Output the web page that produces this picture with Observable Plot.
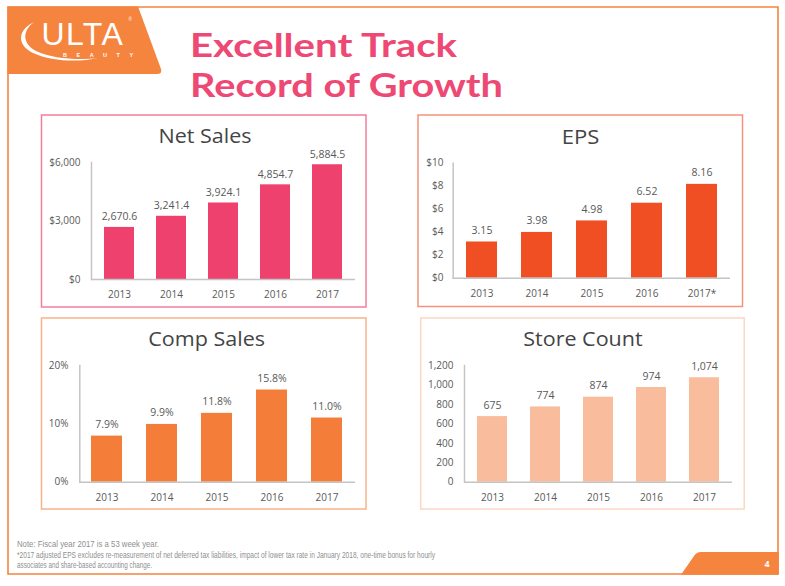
<!DOCTYPE html>
<html>
<head>
<meta charset="utf-8">
<script src="https://cdn.jsdelivr.net/npm/d3@7"></script>
<script src="https://cdn.jsdelivr.net/npm/@observablehq/plot@0.6"></script>
<style>
  html, body { margin: 0; padding: 0; background: #fff; }
  #slide { position: relative; width: 785px; height: 586px; overflow: hidden; background: #fff; font-family: "Open Sans", sans-serif; }
  #bg { position: absolute; left: 0; top: 0; }
  .chart { position: absolute; }
  .chart svg { display: block; }
</style>
</head>
<body>
<div id="slide">
<svg id="bg" width="785" height="586" xmlns="http://www.w3.org/2000/svg">
  <!-- slide frame -->
  <path d="M8,7 L778,7 L778,574 L8,574 Z" fill="none" stroke="#f5843f" stroke-width="1.6"/>
  <!-- logo tab -->
  <path d="M7.5,6.5 L138,6.5 L161,69 Q162.5,74 157,74 L7.5,74 Z" fill="#f5843f"/>
  <path d="M34,22 C19,29 15,44 33,53 C52,62 80,62 98,58 C78,60.5 52,58.5 37,51.5 C22,44 22,31 34,22 Z" fill="#fff"/>
  <text x="41.5" y="44.5" font-family="Liberation Sans" font-size="32" fill="#fff" letter-spacing="1.4">ULTA</text>
  <text x="63" y="56.5" font-family="Liberation Sans" font-size="5.5" font-weight="700" fill="#fff" letter-spacing="9.5">BEAUTY</text>
  <text x="128.5" y="20.5" font-family="Liberation Sans" font-size="4.5" fill="#fff">®</text>
  <!-- title -->
  <text x="190" y="56.7" font-family="Lato" font-size="33" font-weight="700" fill="#ee4874" textLength="267" lengthAdjust="spacingAndGlyphs">Excellent Track</text>
  <text x="190" y="96.7" font-family="Lato" font-size="33" font-weight="700" fill="#ee4874" textLength="313" lengthAdjust="spacingAndGlyphs">Record of Growth</text>
  <!-- panel borders -->
  <rect x="41.5" y="115" width="324.5" height="192" fill="none" stroke="#f47c9c" stroke-width="1.5"/>
  <rect x="418" y="115" width="324.5" height="191.5" fill="none" stroke="#f5937b" stroke-width="1.5"/>
  <rect x="41.5" y="318" width="324.5" height="191" fill="none" stroke="#f8b387" stroke-width="1.5"/>
  <rect x="420.7" y="318" width="323.5" height="191" fill="none" stroke="#fbd7c4" stroke-width="1.5"/>
  <!-- panel titles -->
  <text x="158.5" y="142.7" font-family="Open Sans" font-size="19.5" fill="#444" textLength="93" lengthAdjust="spacingAndGlyphs">Net Sales</text>
  <text x="561.7" y="143.5" font-family="Open Sans" font-size="19.5" fill="#444" textLength="37.6" lengthAdjust="spacingAndGlyphs">EPS</text>
  <text x="148.3" y="346" font-family="Open Sans" font-size="19.5" fill="#444" textLength="116.7" lengthAdjust="spacingAndGlyphs">Comp Sales</text>
  <text x="523.3" y="346" font-family="Open Sans" font-size="19.5" fill="#444" textLength="119.3" lengthAdjust="spacingAndGlyphs">Store Count</text>
  <!-- footer -->
  <text x="17" y="547.3" font-family="Liberation Sans" font-size="9" fill="#8f8f8f" textLength="142" lengthAdjust="spacingAndGlyphs">Note: Fiscal year 2017 is a 53 week year.</text>
  <text x="17" y="557.8" font-family="Liberation Sans" font-size="9" fill="#8f8f8f" textLength="418" lengthAdjust="spacingAndGlyphs">*2017 adjusted EPS excludes re-measurement of net deferred tax liabilities, impact of lower tax rate in January 2018, one-time bonus for hourly</text>
  <text x="17" y="568.2" font-family="Liberation Sans" font-size="9" fill="#8f8f8f" textLength="135" lengthAdjust="spacingAndGlyphs">associates and share-based accounting change.</text>
  <!-- page number tab -->
  <path d="M681,574.8 L694,556 Q696.5,552 701,552 L778.8,552 L778.8,574.8 Z" fill="#f5843f"/>
  <text x="767" y="567" font-family="Open Sans" font-size="9" font-weight="700" fill="#fff" text-anchor="middle">4</text>
</svg>
<div class="chart" id="c1" style="left:41px;top:115px"></div>
<div class="chart" id="c2" style="left:418px;top:115px"></div>
<div class="chart" id="c3" style="left:41px;top:318px"></div>
<div class="chart" id="c4" style="left:421px;top:318px"></div>
</div>
<script>
// ---- data ----
const years = ["2013", "2014", "2015", "2016", "2017"];
const epsYears = ["2013", "2014", "2015", "2016", "2017*"];
const netSales = [2670.6, 3241.4, 3924.1, 4854.7, 5884.5];
const eps = [3.15, 3.98, 4.98, 6.52, 8.16];
const compSales = [7.9, 9.9, 11.8, 15.8, 11.0];
const storeCount = [675, 774, 874, 974, 1074];

const netSalesTicks = [0, 3000, 6000];
const epsTicks = [0, 2, 4, 6, 8, 10];
const compTicks = [0, 10, 20];
const storeTicks = [0, 200, 400, 600, 800, 1000, 1200];

function barChart({cats, values, color, yDomain, yTicks, yFmt, labelFmt, width, height, mL, mR, mT, mB, yPad, xPad, dy}) {
  const data = cats.map((c, i) => ({cat: c, value: values[i]}));
  return Plot.plot({
    width, height,
    marginLeft: mL, marginRight: mR, marginTop: mT, marginBottom: mB,
    style: {fontFamily: "Open Sans", fontSize: "10px", color: "#595959", background: "transparent", overflow: "visible"},
    x: {domain: cats, paddingInner: 0.43, paddingOuter: 0.21, label: null, tickSize: 0, tickPadding: xPad},
    y: {domain: yDomain, label: null},
    marks: [
      Plot.barY(data, {x: "cat", y: "value", fill: color}),
      Plot.axisY({ticks: yTicks, tickFormat: yFmt, tickSize: 0, tickPadding: yPad, label: null, line: true, stroke: "#c4c4c4", strokeWidth: 1.5, fill: "#595959"}),
      Plot.frame({anchor: "left", stroke: "#c4c4c4", strokeWidth: 1.5}),
      Plot.ruleY([0], {stroke: "#c4c4c4", strokeWidth: 1.5}),
      Plot.text(data, {x: "cat", y: "value", text: d => labelFmt(d.value), dy: dy, fill: "#595959", fontSize: 10.5})
    ]
  });
}

const comma = d3.format(",");
document.getElementById("c1").append(barChart({
  cats: years, values: netSales, color: "#ee416e",
  yDomain: [0, 6000], yTicks: netSalesTicks, yFmt: d => "$" + comma(d),
  labelFmt: d3.format(",.1f"),
  width: 325, height: 192, mL: 50, mR: 11, mT: 47, mB: 28, yPad: 11, xPad: 11, dy: -10.5
}));
document.getElementById("c2").append(barChart({
  cats: epsYears, values: eps, color: "#f04e23",
  yDomain: [0, 10], yTicks: epsTicks, yFmt: d => "$" + d,
  labelFmt: d3.format(".2f"),
  width: 325, height: 192, mL: 34.7, mR: 13, mT: 47.7, mB: 29.3, yPad: 9.7, xPad: 11.5, dy: -11.5
}));
document.getElementById("c3").append(barChart({
  cats: years, values: compSales, color: "#f47e39",
  yDomain: [0, 20], yTicks: compTicks, yFmt: d => d + "%",
  labelFmt: d => d3.format(".1f")(d) + "%",
  width: 325, height: 191, mL: 38.3, mR: 11, mT: 47, mB: 27.3, yPad: 11.3, xPad: 11.5, dy: -11.7
}));
document.getElementById("c4").append(barChart({
  cats: years, values: storeCount, color: "#f9bd9e",
  yDomain: [0, 1200], yTicks: storeTicks, yFmt: d => comma(d),
  labelFmt: d => comma(d),
  width: 323, height: 191, mL: 43, mR: 12, mT: 47, mB: 27.3, yPad: 11, xPad: 11.5, dy: -11.3
}));
</script>
</body>
</html>
